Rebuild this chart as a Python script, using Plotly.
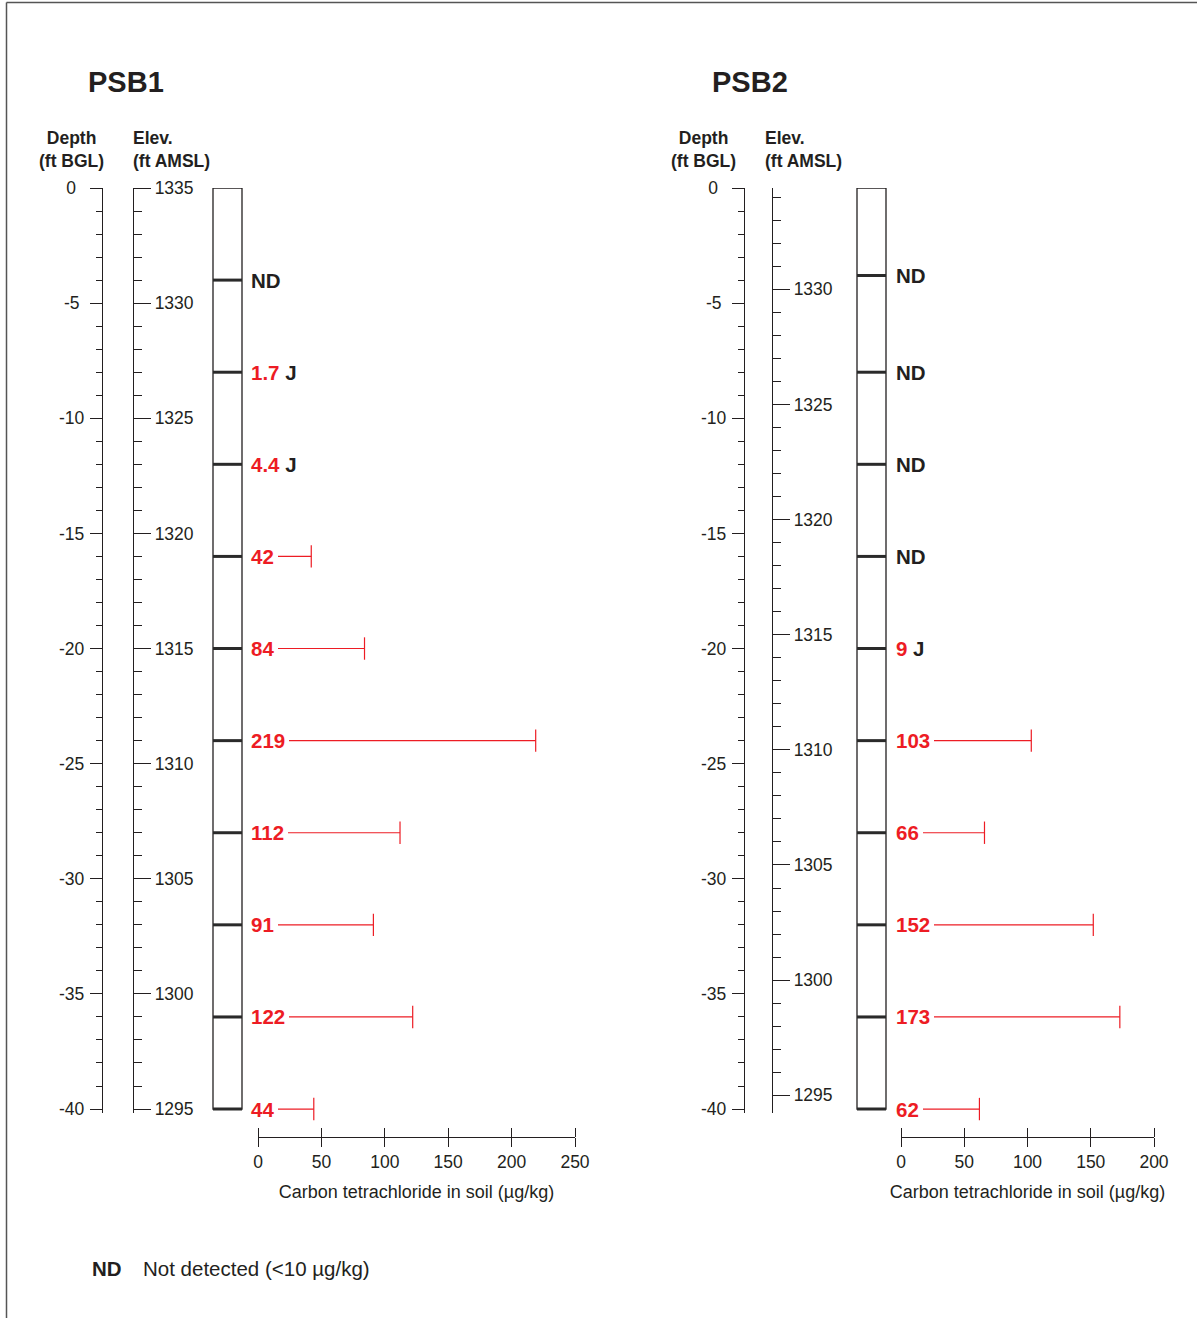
import plotly.graph_objects as go

W, H = 1197, 1318
RED = "#ED1C24"
INK = "#231F20"
FONT = "Liberation Sans, Arial, Helvetica, sans-serif"

# ---------------- data ----------------
borehole_names = ["PSB1", "PSB2"]
psb1_depth_ft = [4, 8, 12, 16, 20, 24, 28, 32, 36, 40]
psb1_ctc_ugkg = [None, 1.7, 4.4, 42, 84, 219, 112, 91, 122, 44]
psb1_flag = ["ND", "J", "J", "", "", "", "", "", "", ""]
psb2_depth_ft = [3.8, 8, 12, 16, 20, 24, 28, 32, 36, 40]
psb2_ctc_ugkg = [None, None, None, None, 9, 103, 66, 152, 173, 62]
psb2_flag = ["ND", "ND", "ND", "ND", "J", "", "", "", "", ""]
ground_elev_ft = [1335.0, 1334.4]
conc_axis_max = [250, 200]
depth_tickvals = [0, -5, -10, -15, -20, -25, -30, -35, -40]
depth_ticktext = ["0", "-5", "-10", "-15", "-20", "-25", "-30", "-35", "-40"]
conc_title = "Carbon tetrachloride in soil (µg/kg)"

depths = [psb1_depth_ft, psb2_depth_ft]
values = [psb1_ctc_ugkg, psb2_ctc_ugkg]
flags = [psb1_flag, psb2_flag]

# centre the depth tick labels (pad short labels on the right)
PAD = {1: "\u00a0\u2009", 2: "\u00a0", 3: ""}
depth_ticktext_padded = [t + PAD[len(t)] for t in depth_ticktext]

# ---------------- layout geometry (pixels) ----------------
def xp(px):
    return px / W


def yp(py):
    return 1 - py / H


DEPTH_TOP_PX, DEPTH_BOT_PX = 188, 1112.5
DEPTH_RANGE = [-40.15, 0]
ydom = [yp(DEPTH_BOT_PX), yp(DEPTH_TOP_PX)]
CONC_AXIS_Y_PX = 1137

panels = [
    dict(depth_x=102, elev_x=133, col=(213, 242), conc=(258, 575), title_x=126,
         depth_hdr_x=71, elev_hdr_x=131, label_shift=-11),
    dict(depth_x=744, elev_x=772, col=(857, 886), conc=(901, 1154), title_x=750,
         depth_hdr_x=703, elev_hdr_x=763, label_shift=-9),
]

fig = go.Figure()
layout_axes = {}
annotations = []
shapes = []


def ref(prefix, n):
    return prefix if n == 1 else f"{prefix}{n}"


def key(prefix, n):
    return f"{prefix}axis" if n == 1 else f"{prefix}axis{n}"


for i, name in enumerate(borehole_names):
    p = panels[i]
    nxc, nxt, nxcol = 3 * i + 1, 3 * i + 2, 3 * i + 3
    nyd, nye = 2 * i + 1, 2 * i + 2
    xc, xt, xcol = ref("x", nxc), ref("x", nxt), ref("x", nxcol)
    yd, ye = ref("y", nyd), ref("y", nye)
    g = ground_elev_ft[i]
    d_list, v_list, f_list = depths[i], values[i], flags[i]

    # bars (detections without qualifier)
    bx, by, cx, cy = [], [], [], []
    for d, v, f in zip(d_list, v_list, f_list):
        if v is not None and f == "":
            bx += [0, v, None]
            by += [-d, -d, None]
            cx.append(v)
            cy.append(-d)
    fig.add_trace(go.Scatter(x=bx, y=by, xaxis=xc, yaxis=yd, mode="lines",
                             line=dict(color=RED, width=1.2), hoverinfo="skip",
                             showlegend=False))
    fig.add_trace(go.Scatter(x=cx, y=cy, xaxis=xt, yaxis=yd, mode="markers",
                             marker=dict(symbol="line-ns", size=16,
                                         line=dict(color=RED, width=1.2)),
                             cliponaxis=False, hoverinfo="skip", showlegend=False))

    # sample intervals in the core column
    sx, sy = [], []
    for d in d_list:
        sx += [0, 1, None]
        sy += [-d, -d, None]
    fig.add_trace(go.Scatter(x=sx, y=sy, xaxis=xcol, yaxis=yd, mode="lines",
                             line=dict(color="#2A2A2A", width=3), hoverinfo="skip",
                             showlegend=False))

    # elevation helper (invisible, anchors the elevation axis)
    fig.add_trace(go.Scatter(x=[0] * len(d_list), y=[g - d for d in d_list],
                             xaxis=xc, yaxis=ye, mode="markers",
                             marker=dict(opacity=0, size=1), hoverinfo="skip",
                             showlegend=False))

    # axes
    layout_axes[key("x", nxc)] = dict(
        domain=[xp(p["conc"][0]), xp(p["conc"][1])], range=[0, conc_axis_max[i]],
        anchor="free", position=yp(CONC_AXIS_Y_PX), side="bottom", showline=True,
        linecolor=INK, linewidth=1.3, ticks="outside", ticklen=9, tickwidth=1.3,
        tickcolor=INK, tickmode="linear", tick0=0, dtick=50, showgrid=False,
        zeroline=False, tickfont=dict(size=17.5, color=INK, family=FONT),
        title=dict(text=conc_title, font=dict(size=18, color=INK, family=FONT),
                   standoff=14),
        automargin=False, fixedrange=True)
    layout_axes[key("x", nxt)] = dict(
        overlaying=xc, range=[0, conc_axis_max[i]], anchor="free",
        position=yp(CONC_AXIS_Y_PX), side="top", showline=False, ticks="outside",
        ticklen=9, tickwidth=1.3, tickcolor=INK, tickmode="linear", tick0=0,
        dtick=50, showticklabels=False, showgrid=False, zeroline=False,
        automargin=False, fixedrange=True)
    layout_axes[key("x", nxcol)] = dict(
        domain=[xp(p["col"][0]), xp(p["col"][1])], range=[0, 1], visible=False,
        anchor=yd, automargin=False, fixedrange=True)
    layout_axes[key("y", nyd)] = dict(
        domain=ydom, range=DEPTH_RANGE, anchor="free", position=xp(p["depth_x"]),
        side="left", showline=True, linecolor=INK, linewidth=1.3,
        ticks="outside", ticklen=12, tickwidth=1.3, tickcolor=INK,
        tickmode="array", tickvals=depth_tickvals, ticktext=depth_ticktext_padded,
        minor=dict(tickmode="linear", tick0=0, dtick=1, ticks="outside", ticklen=6,
                   tickwidth=1.3, tickcolor=INK, showgrid=False),
        ticklabelstandoff=2,
        showgrid=False, zeroline=False,
        tickfont=dict(size=17.5, color=INK, family=FONT),
        automargin=False, fixedrange=True)
    layout_axes[key("y", nye)] = dict(
        overlaying=yd, range=[g + DEPTH_RANGE[0], g + DEPTH_RANGE[1]],
        anchor="free", position=xp(p["elev_x"]), side="right", showline=True,
        linecolor=INK, linewidth=1.3, ticks="outside", ticklen=17, tickwidth=1.3,
        tickcolor=INK, tickmode="linear", tick0=0, dtick=5,
        minor=dict(tickmode="linear", tick0=0, dtick=1, ticks="outside", ticklen=8,
                   tickwidth=1.3, tickcolor=INK, showgrid=False),
        ticklabelstandoff=0,
        showgrid=False, zeroline=False,
        tickfont=dict(size=17.5, color=INK, family=FONT),
        automargin=False, fixedrange=True)

    # core column outline
    shapes.append(dict(type="rect", xref=f"{xcol} domain", x0=0, x1=1, yref=yd,
                       y0=0, y1=-40, line=dict(color=INK, width=1.3),
                       layer="below"))

    # sample labels
    for d, v, f in zip(d_list, v_list, f_list):
        if f == "ND":
            txt = "<b>ND</b>"
            col = INK
        elif f == "J":
            txt = f'<b><span style="color:{RED}">{v:g}</span> J</b>'
            col = INK
        else:
            txt = f"<b>{v:g}</b>"
            col = RED
        annotations.append(dict(
            x=0, xref=xc, y=-d, yref=yd, text=txt, showarrow=False,
            xanchor="left", yanchor="middle", xshift=p["label_shift"],
            bgcolor="white", borderpad=4, borderwidth=0,
            font=dict(size=20.5, color=col, family=FONT)))

    # headers
    annotations.append(dict(x=xp(p["title_x"]), y=yp(82), xref="paper", yref="paper",
                            text=f"<b>{name}</b>", showarrow=False,
                            xanchor="center", yanchor="middle",
                            font=dict(size=29, color=INK, family=FONT)))
    annotations.append(dict(x=xp(p["depth_hdr_x"]), y=yp(150), xref="paper",
                            yref="paper", text="<b>Depth<br>(ft BGL)</b>",
                            showarrow=False, xanchor="center", yanchor="middle",
                            align="center",
                            font=dict(size=17.5, color=INK, family=FONT)))
    annotations.append(dict(x=xp(p["elev_hdr_x"]), y=yp(150), xref="paper",
                            yref="paper", text="<b>Elev.<br>(ft AMSL)</b>",
                            showarrow=False, xanchor="left", yanchor="middle",
                            align="left",
                            font=dict(size=17.5, color=INK, family=FONT)))

# legend note
annotations.append(dict(x=xp(90), y=yp(1268), xref="paper", yref="paper",
                        text="<b>ND</b>", showarrow=False, xanchor="left",
                        yanchor="middle", font=dict(size=20.5, color=INK, family=FONT)))
annotations.append(dict(x=xp(141), y=yp(1268), xref="paper", yref="paper",
                        text="Not detected (&lt;10 µg/kg)", showarrow=False,
                        xanchor="left", yanchor="middle",
                        font=dict(size=20.5, color=INK, family=FONT)))

# page frame (top and left edges of the figure border)
shapes.append(dict(type="line", xref="paper", yref="paper", x0=xp(6.5), x1=1,
                   y0=yp(2.5), y1=yp(2.5), line=dict(color="#555555", width=1.5)))
shapes.append(dict(type="line", xref="paper", yref="paper", x0=xp(6.5), x1=xp(6.5),
                   y0=yp(2.5), y1=0, line=dict(color="#555555", width=1.5)))

fig.update_layout(
    template="none",
    width=W, height=H, margin=dict(l=0, r=0, t=0, b=0, pad=0, autoexpand=False),
    paper_bgcolor="white", plot_bgcolor="rgba(0,0,0,0)",
    showlegend=False, font=dict(family=FONT, color=INK),
    annotations=annotations, shapes=shapes, **layout_axes)

fig.write_html("out.html", config={"displayModeBar": False},
               post_script="document.body.style.margin='0';")
